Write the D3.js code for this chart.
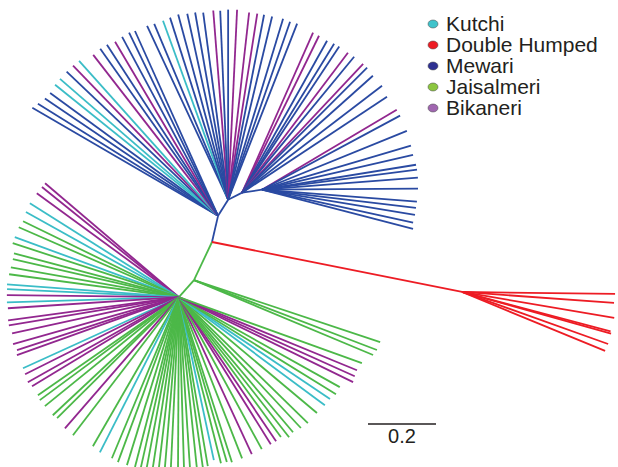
<!DOCTYPE html>
<html>
<head>
<meta charset="utf-8">
<script src="https://cdn.jsdelivr.net/npm/d3@7"></script>
<style>
body{margin:0;background:#fff}
svg{display:block;font-family:"Liberation Sans",Arial,sans-serif}
</style>
</head>
<body>
<div id="chart1"></div>
<script>
var breeds = ["Kutchi","Double Humped","Mewari","Jaisalmeri","Bikaneri"]
var breedCodes = ["K","D","M","J","B"]
var lineColors = ["#3bbdc7","#ed1c24","#2a4aa2","#4cb848","#92278f"]
var dotColors = ["#3fc3cb","#ed1c24","#2e3192","#8cc63f","#a066b0"]

// internal branches: angle in degrees (clockwise from east), length in tree units
var innerNames = ["m1","m2","m3","m4","j1","j2","d1"]
var innerParents = ["root","m1","m2","m3","root","j1","root"]
var innerAngles = [283,302,333.4,351.5,115.3,131.4,11.3]
var innerLengths = [0.079,0.056,0.046,0.059,0.124,0.067,0.75]
var innerBreeds = "MMMMJJD"

// leaves off each internal node
var m1Angles = [210.2,211.9,214.1,216.2,218.8,220.9,223.6,226.0,228.1,232.2,234.8,237.0,239.4,241.8,244.1,245.8]
var m1Lengths = [0.632,0.624,0.615,0.612,0.615,0.615,0.615,0.614,0.612,0.599,0.601,0.600,0.595,0.597,0.599,0.596]
var m1Breeds = "MMMMKKMBKBMMBMMM"

var m2Angles = [245.0,247.2,250.0,252.3,254.9,257.6,260.0,262.4,265.5,267.6,270.0,272.7,276.4,278.9,281.0,283.5,286.9,289.2,291.4]
var m2Lengths = [0.564,0.561,0.560,0.562,0.564,0.560,0.559,0.555,0.558,0.556,0.559,0.559,0.554,0.554,0.554,0.554,0.556,0.554,0.556]
var m2Breeds = "MMKMMMMMBMMBBBMMMMM"

var m3Angles = [293.9,296.1,299.2,301.7,303.6,307.1,309.5,313.2,315.0,318.2,322.6,326.5]
var m3Lengths = [0.515,0.514,0.512,0.515,0.516,0.516,0.518,0.520,0.520,0.516,0.518,0.511]
var m3Breeds = "BBMMMBMBMMMM"

var m4Angles = [329.3,331.8,337.9,343.5,347.0,350.8,352.6,355.6,359.6,4.4,6.7,9.3,12.3,14.5]
var m4Lengths = [0.461,0.461,0.460,0.457,0.456,0.459,0.460,0.460,0.459,0.457,0.456,0.456,0.455,0.459]
var m4Breeds = "BMMMMMMMMMMMMM"

var d1Angles = [0.7,4.1,9.7,14.9,15.6,19.6,22.4]
var d1Lengths = [0.450,0.448,0.454,0.452,0.455,0.456,0.455]
var d1Breeds = "DDDDDDD"

var j1Angles = [18.4,20.9,22.7]
var j1Lengths = [0.577,0.576,0.571]
var j1Breeds = "JJJ"

var j2Angles = [220.4,218.8,216.2,212.2,209.1,206.0,203.6,200.1,198.0,194.9,
    192.9,190.1,187.7,184.3,182.7,180.7,178.3,176.3,172.3,170.6,
    167.8,164.2,161.9,160.3,155.5,153.4,150.6,148.8,145.2,143.5,
    140.9,136.9,135.2,131.0,127.5,120.0,117.0,112.6,110.3,107.2,
    104.5,102.6,100.7,98.7,96.7,94.7,92.7,90.3,88.3,86.3,
    84.0,82.0,80.3,77.9,75.8,73.8,72.2,68.6,65.1,61.4,
    58.0,56.0,53.9,51.8,49.8,47.0,44.3,40.0,36.5,34.0,
    31.7,29.2,26.0,24.2,22.3,19.8]
var j2Lengths = [0.517,0.517,0.518,0.518,0.515,0.510,0.514,0.514,0.514,0.502,
    0.501,0.502,0.504,0.507,0.506,0.506,0.506,0.504,0.507,0.507,
    0.502,0.507,0.501,0.506,0.504,0.506,0.510,0.505,0.505,0.509,
    0.508,0.508,0.505,0.511,0.512,0.506,0.512,0.513,0.517,0.517,
    0.516,0.512,0.509,0.506,0.504,0.502,0.501,0.500,0.500,0.501,
    0.503,0.505,0.504,0.490,0.504,0.505,0.510,0.509,0.509,0.509,
    0.510,0.511,0.509,0.524,0.520,0.526,0.530,0.530,0.534,0.536,
    0.543,0.542,0.570,0.567,0.566,0.572]
var j2Breeds = "BBBKKJJKJJJJJKKBKBBBBBBBKBBBJJJJJBJJKJJJJJJJJJJJJJJJJKJJJJBJBBJJJJJJKKJJBBBJ"

var leafSets = [
    {hub:"j2", angles:j2Angles, lengths:j2Lengths, breeds:j2Breeds},
    {hub:"j1", angles:j1Angles, lengths:j1Lengths, breeds:j1Breeds},
    {hub:"m1", angles:m1Angles, lengths:m1Lengths, breeds:m1Breeds},
    {hub:"m2", angles:m2Angles, lengths:m2Lengths, breeds:m2Breeds},
    {hub:"m3", angles:m3Angles, lengths:m3Lengths, breeds:m3Breeds},
    {hub:"m4", angles:m4Angles, lengths:m4Lengths, breeds:m4Breeds},
    {hub:"d1", angles:d1Angles, lengths:d1Lengths, breeds:d1Breeds}
]

var width = 618, height = 467
var svg = d3.select("#chart1").append("svg")
    .attr("width",width)
    .attr("height",height)

// tree units -> pixels, root sits where the three clades meet
var xScale = d3.scaleLinear().domain([0,0.2]).range([212,280])
var yScale = d3.scaleLinear().domain([0,0.2]).range([242,310])

function colorOf(code){
    return lineColors[breedCodes.indexOf(code)]
}

function step(p,angle,len){
    var a = angle*Math.PI/180
    return {x:p.x+len*Math.cos(a), y:p.y+len*Math.sin(a)}
}

var nodes = {root:{x:0,y:0}}
var branches = []
innerNames.forEach(function(n,i){
    var p = nodes[innerParents[i]]
    nodes[n] = step(p,innerAngles[i],innerLengths[i])
    branches.push({from:p,to:nodes[n],breed:innerBreeds[i]})
})
leafSets.forEach(function(s){
    var p = nodes[s.hub]
    s.angles.forEach(function(a,i){
        branches.push({from:p,to:step(p,a,s.lengths[i]),breed:s.breeds[i]})
    })
})

svg.append("g")
    .attr("class","tree")
    .selectAll("line")
    .data(branches)
    .enter().append("line")
    .attr("x1",function(d){return xScale(d.from.x)})
    .attr("y1",function(d){return yScale(d.from.y)})
    .attr("x2",function(d){return xScale(d.to.x)})
    .attr("y2",function(d){return yScale(d.to.y)})
    .attr("stroke",function(d){return colorOf(d.breed)})
    .attr("stroke-width",1.8)
    .attr("stroke-linecap","butt")

// legend
var legend = svg.append("g").attr("class","legend")
    .attr("transform","translate(433,24)")
legend.selectAll("ellipse")
    .data(breeds)
    .enter().append("ellipse")
    .attr("cx",0)
    .attr("cy",function(d,i){return i*21})
    .attr("rx",5)
    .attr("ry",4)
    .attr("fill",function(d,i){return dotColors[i]})
    .attr("stroke","#444")
    .attr("stroke-width",0.5)
legend.selectAll("text")
    .data(breeds)
    .enter().append("text")
    .attr("x",13)
    .attr("y",function(d,i){return i*21+7})
    .attr("font-size",21)
    .attr("fill","#231f20")
    .text(function(d){return d})

// scale bar
var barLen = xScale(0.2)-xScale(0)
var bar = svg.append("g").attr("transform","translate(368,424)")
bar.append("line")
    .attr("x1",0).attr("x2",barLen)
    .attr("y1",0).attr("y2",0)
    .attr("stroke","#231f20")
    .attr("stroke-width",1.3)
bar.append("text")
    .attr("x",barLen/2)
    .attr("y",19)
    .attr("text-anchor","middle")
    .attr("font-size",20)
    .attr("fill","#231f20")
    .text("0.2")
</script>
</body>
</html>
